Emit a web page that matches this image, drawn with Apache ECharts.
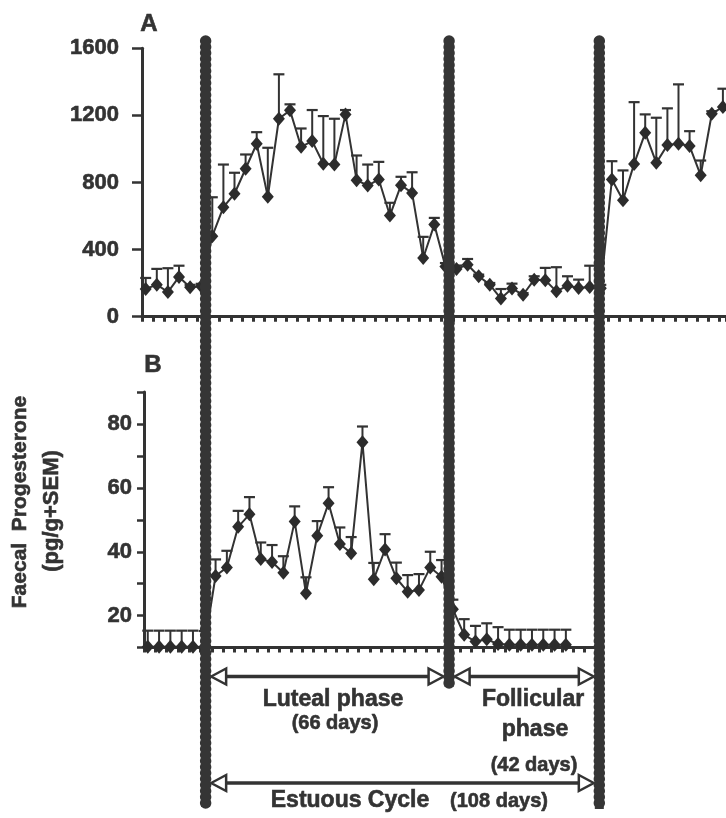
<!DOCTYPE html>
<html><head><meta charset="utf-8">
<script src="https://cdn.jsdelivr.net/npm/echarts@6/dist/echarts.min.js"></script>
<style>html,body{margin:0;padding:0;background:#fff}#c{width:726px;height:818px}</style>
</head><body><div id="c"></div>
<script>
// ---------------- DATA ----------------
const SAMPLE_INTERVAL_DAYS = 3;   // one faecal sample every 3 days
const FIRST_SAMPLE_DAY = 1;

// Panel A: faecal progesterone (pg/g), mean and SEM
const aMean = [165,191,147,237,175,181,480,653,733,882,1031,715,1180,1230,1013,1047,912,907,1206,814,782,818,603,784,738,350,549,300,285,310,241,191,108,168,131,221,217,151,185,171,177,170,818,694,911,1096,917,1023,1031,1017,843,1210,1250];
const aSem  = [66,94,142,67,15,15,232,254,125,85,69,292,265,36,109,185,284,273,26,147,125,105,76,50,123,126,40,20,20,34,10,10,57,29,10,20,74,144,56,50,127,20,109,178,368,110,269,219,354,89,88,15,109];

// Panel B: faecal progesterone (pg/g), mean and SEM
const bMean = [10.3,10.3,10.3,10.3,10.3,10.2,32.4,35.1,47.8,51.7,37.7,36.8,33.4,49.5,27.0,45.0,55.2,42.4,39.5,74.3,31.4,40.7,31.7,27.5,28.0,35.1,32.2,22.0,14.0,11.9,12.6,11.1,10.9,10.9,10.9,10.9,10.9,10.9];
const bSem  = [5,5,5,5,5,5,5.2,5.2,5.0,5.4,5.2,5.3,5.2,4.7,5.0,4.6,5.0,5.2,5.1,4.9,5.1,4.8,4.9,5.2,5.0,4.9,5.2,3,4.9,4.9,5.0,5.3,4.7,4.7,4.7,4.7,4.7,4.7];

// Axis ticks
const aYTicks = [0, 400, 800, 1200, 1600];
const bYLabels = [20, 40, 60, 80];

// Phase boundaries (study day): luteal start, follicular start, next cycle start
const phaseBoundaryDays = [17.2, 83.0, 123.6];

// Annotations
const phaseLabels = [
  {text: 'Luteal phase', size: 23, x: 333, y: 700},
  {text: '(66 days)', size: 20, x: 335, y: 723},
  {text: 'Follicular', size: 23, x: 533, y: 700},
  {text: 'phase', size: 23, x: 535, y: 730},
  {text: '(42 days)', size: 20, x: 534, y: 765},
  {text: 'Estuous Cycle', size: 23, x: 350, y: 801},
  {text: '(108 days)', size: 20, x: 499, y: 801}
];

// ---------------- LAYOUT ----------------
const INK = '#333333';
const FONT = '"Liberation Sans", Arial, Helvetica, sans-serif';
const LINE_TOP = 38;
const LINE_BOTTOMS = [810, 690, 812];
const ARROWS = [[0, 1, 676.5], [1, 2, 676.5], [0, 2, 783]];
const HEAVY = {textBorderColor: INK, textBorderWidth: 0.6};
const HEAVY_G = {stroke: INK, lineWidth: 0.6};

const aData = aMean.map((v, i) => [FIRST_SAMPLE_DAY + SAMPLE_INTERVAL_DAYS * i, v, aSem[i]]);
const bData = bMean.map((v, i) => [FIRST_SAMPLE_DAY + SAMPLE_INTERVAL_DAYS * i, v, bSem[i]]);

function errRender(params, api) {
  const x = api.value(0), y = api.value(1), e = api.value(2);
  const p0 = api.coord([x, y]);
  const p1 = api.coord([x, y + e]);
  return {type: 'group', children: [
    {type: 'line', shape: {x1: p0[0], y1: p0[1], x2: p1[0], y2: p1[1]}, style: {stroke: INK, lineWidth: 2}},
    {type: 'line', shape: {x1: p1[0] - 5.5, y1: p1[1], x2: p1[0] + 5.5, y2: p1[1]}, style: {stroke: INK, lineWidth: 2.2}}
  ]};
}

function boundaryRender(params, api) {
  const a = api.coord([api.value(0), api.value(1)]);
  const b = api.coord([api.value(0), api.value(2)]);
  return {type: 'group', children: [
    {type: 'line', shape: {x1: a[0], y1: a[1] + 3, x2: b[0], y2: b[1] - 3}, style: {stroke: '#3a3a3a', lineWidth: 9}},
    {type: 'line', shape: {x1: a[0], y1: a[1] + 3, x2: b[0], y2: b[1] - 3}, style: {stroke: '#353535', lineWidth: 11.5, lineCap: 'round', lineDash: [0, 6]}}
  ]};
}

function arrowRender(params, api) {
  const half = 5.5, L = 15, H = 8;
  const l = api.coord([api.value(0), api.value(2)]);
  const r = api.coord([api.value(1), api.value(2)]);
  const xl = l[0] + half, xr = r[0] - half, y = l[1];
  return {type: 'group', children: [
    {type: 'line', shape: {x1: xl + L, y1: y, x2: xr - L, y2: y}, style: {stroke: INK, lineWidth: 3.5}},
    {type: 'polygon', shape: {points: [[xl, y], [xl + L, y - H], [xl + L, y + H]]}, style: {fill: '#fff', stroke: INK, lineWidth: 2.5}},
    {type: 'polygon', shape: {points: [[xr, y], [xr - L, y - H], [xr - L, y + H]]}, style: {fill: '#fff', stroke: INK, lineWidth: 2.5}}
  ]};
}

const axisLineStyle = {show: true, lineStyle: {color: INK, width: 3}};

function gText(x, y, text, size, rot) {
  const el = {type: 'text', x: x, y: y, z: 20,
    style: Object.assign({text: text, font: 'bold ' + size + 'px ' + FONT, fill: INK, align: 'center', verticalAlign: 'middle'}, HEAVY_G)};
  if (rot) el.rotation = rot;
  return el;
}

const option = {
  animation: false,
  backgroundColor: '#fff',
  grid: [
    {left: 142, top: 48.3, width: 584, height: 268.4},
    {left: 144, top: 392, width: 452, height: 255.6},
    {left: 142, top: 0, width: 584, height: 818}
  ],
  xAxis: [
    {gridIndex: 0, type: 'value', min: 0, max: 584 / 3.7, interval: SAMPLE_INTERVAL_DAYS,
      axisLine: axisLineStyle, axisTick: {show: true, length: 5, lineStyle: {color: INK, width: 3}},
      axisLabel: {show: false}, splitLine: {show: false}},
    {gridIndex: 1, type: 'value', min: 0, max: 120, interval: SAMPLE_INTERVAL_DAYS,
      axisLine: axisLineStyle, axisTick: {show: true, length: 5, lineStyle: {color: INK, width: 3}},
      axisLabel: {show: false}, splitLine: {show: false}},
    {gridIndex: 2, type: 'value', min: 0, max: 584 / 3.7, show: false}
  ],
  yAxis: [
    {gridIndex: 0, type: 'value', min: aYTicks[0], max: aYTicks[aYTicks.length - 1], interval: aYTicks[1] - aYTicks[0],
      axisLine: axisLineStyle, axisTick: {show: true, length: 10, lineStyle: {color: INK, width: 2.5}},
      axisLabel: Object.assign({margin: 23, color: INK, fontFamily: FONT, fontWeight: 'bold', fontSize: 22,
        formatter: v => aYTicks.indexOf(v) >= 0 ? String(v) : ''}, HEAVY),
      splitLine: {show: false}},
    {gridIndex: 1, type: 'value', min: 10, max: 90, interval: 10,
      axisLine: axisLineStyle, axisTick: {show: true, length: 7, lineStyle: {color: INK, width: 2.5}},
      axisLabel: Object.assign({margin: 12, color: INK, fontFamily: FONT, fontWeight: 'bold', fontSize: 22,
        formatter: v => bYLabels.indexOf(v) >= 0 ? String(v) : ''}, HEAVY),
      splitLine: {show: false}},
    {gridIndex: 2, type: 'value', min: 0, max: 818, inverse: true, show: false}
  ],
  series: [
    {type: 'custom', xAxisIndex: 0, yAxisIndex: 0, data: aData, renderItem: errRender, encode: {x: 0, y: 1}, z: 2, clip: false},
    {type: 'line', xAxisIndex: 0, yAxisIndex: 0, data: aData.map(d => [d[0], d[1]]),
      symbol: 'diamond', symbolSize: [12, 14], lineStyle: {color: INK, width: 2}, itemStyle: {color: '#2c2c2c'}, z: 3},
    {type: 'custom', xAxisIndex: 1, yAxisIndex: 1, data: bData, renderItem: errRender, encode: {x: 0, y: 1}, z: 2, clip: false},
    {type: 'line', xAxisIndex: 1, yAxisIndex: 1, data: bData.map(d => [d[0], d[1]]),
      symbol: 'diamond', symbolSize: [12, 14], lineStyle: {color: INK, width: 2}, itemStyle: {color: '#2c2c2c'}, z: 3},
    {type: 'custom', xAxisIndex: 2, yAxisIndex: 2, clip: false, z: 4,
      data: ARROWS.map(a => [phaseBoundaryDays[a[0]], phaseBoundaryDays[a[1]], a[2]]),
      encode: {x: [0, 1], y: 2}, renderItem: arrowRender},
    {type: 'custom', xAxisIndex: 2, yAxisIndex: 2, clip: false, z: 10,
      data: phaseBoundaryDays.map((d, k) => [d, LINE_TOP, LINE_BOTTOMS[k]]),
      encode: {x: 0, y: [1, 2]}, renderItem: boundaryRender}
  ],
  graphic: [
    gText(149, 24, 'A', 24),
    gText(153, 365, 'B', 24),
    gText(20, 502, 'Faecal  Progesterone', 21, Math.PI / 2),
    gText(52, 511, '(pg/g+SEM)', 22, Math.PI / 2)
  ].concat(phaseLabels.map(t => gText(t.x, t.y, t.text, t.size)))
};

const chart = echarts.init(document.getElementById('c'), null, {renderer: 'canvas'});
chart.setOption(option);
</script>
</body></html>
